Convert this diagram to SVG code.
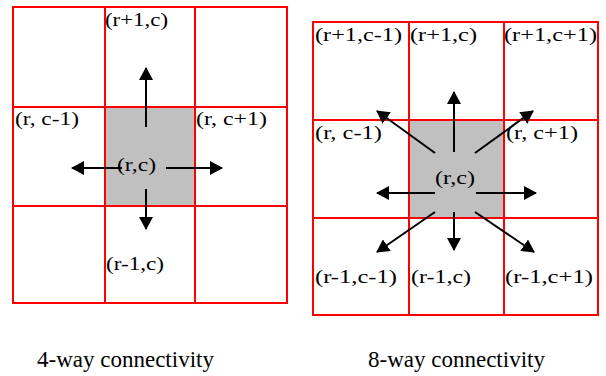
<svg xmlns="http://www.w3.org/2000/svg" width="606" height="376" viewBox="0 0 606 376">
<style>
.grid{fill:none;stroke:#ff0000;stroke-width:2}
.cell{fill:#c0c0c0;stroke:none}
.arr{stroke:#000;stroke-width:2;fill:none;marker-end:url(#ah)}
.lbl{font-family:"Liberation Serif","Times New Roman",serif;font-size:18px;fill:#000}
.cap{font-family:"Liberation Serif","Times New Roman",serif;font-size:23px;fill:#000}
</style>
<defs>
<marker id="ah" markerUnits="userSpaceOnUse" markerWidth="14" markerHeight="14" viewBox="0 0 14 14" refX="12" refY="7" orient="auto">
<path d="M0,0 L13,7 L0,14 z" fill="#000"/>
</marker>
</defs>
<rect x="0" y="0" width="606" height="376" fill="#fff"/>

<g id="grid4">
<rect class="cell" x="105" y="107" width="90" height="99"/>
<path class="grid" d="M13,7H287V303H13Z M105,7V303 M195,7V303 M13,107H287 M13,206H287"/>
</g>
<g id="grid8">
<rect class="cell" x="409" y="120" width="95" height="98"/>
<path class="grid" d="M313,22H598V315H313Z M409,22V315 M504,22V315 M313,120H598 M313,218H598"/>
</g>

<g id="connectors">
<line class="arr" x1="146" y1="127" x2="146" y2="68"/>
<line class="arr" x1="122" y1="168" x2="72" y2="168"/>
<line class="arr" x1="166" y1="168" x2="222" y2="168"/>
<line class="arr" x1="146" y1="189" x2="146" y2="229"/>

<line class="arr" x1="454" y1="152" x2="454" y2="92"/>
<line class="arr" x1="454" y1="212" x2="454" y2="250"/>
<line class="arr" x1="435" y1="193" x2="377" y2="193"/>
<line class="arr" x1="476" y1="193" x2="536" y2="193"/>
<line class="arr" x1="435" y1="153" x2="377" y2="111"/>
<line class="arr" x1="475" y1="153" x2="533" y2="111"/>
<line class="arr" x1="435" y1="212" x2="377" y2="252"/>
<line class="arr" x1="475" y1="212" x2="534" y2="252"/>
</g>

<g id="labels4">
<text class="lbl" x="105" y="26" textLength="63" lengthAdjust="spacingAndGlyphs">(r+1,c)</text>
<text class="lbl" x="15" y="125" textLength="64" lengthAdjust="spacingAndGlyphs">(r, c-1)</text>
<text class="lbl" x="196" y="125" textLength="71" lengthAdjust="spacingAndGlyphs">(r, c+1)</text>
<text class="lbl" x="117" y="171" textLength="39" lengthAdjust="spacingAndGlyphs">(r,c)</text>
<text class="lbl" x="106" y="270" textLength="58" lengthAdjust="spacingAndGlyphs">(r-1,c)</text>
</g>
<g id="labels8">
<text class="lbl" x="315" y="41" textLength="87" lengthAdjust="spacingAndGlyphs">(r+1,c-1)</text>
<text class="lbl" x="410" y="41" textLength="67" lengthAdjust="spacingAndGlyphs">(r+1,c)</text>
<text class="lbl" x="504" y="41" textLength="93" lengthAdjust="spacingAndGlyphs">(r+1,c+1)</text>
<text class="lbl" x="315" y="139" textLength="67" lengthAdjust="spacingAndGlyphs">(r, c-1)</text>
<text class="lbl" x="506" y="139" textLength="72" lengthAdjust="spacingAndGlyphs">(r, c+1)</text>
<text class="lbl" x="435" y="184" textLength="40" lengthAdjust="spacingAndGlyphs">(r,c)</text>
<text class="lbl" x="315" y="283" textLength="82" lengthAdjust="spacingAndGlyphs">(r-1,c-1)</text>
<text class="lbl" x="411" y="283" textLength="60" lengthAdjust="spacingAndGlyphs">(r-1,c)</text>
<text class="lbl" x="505" y="283" textLength="88" lengthAdjust="spacingAndGlyphs">(r-1,c+1)</text>
</g>
<g id="captions">
<text class="cap" x="37" y="367">4-way connectivity</text>
<text class="cap" x="368" y="367">8-way connectivity</text>
</g>
</svg>
